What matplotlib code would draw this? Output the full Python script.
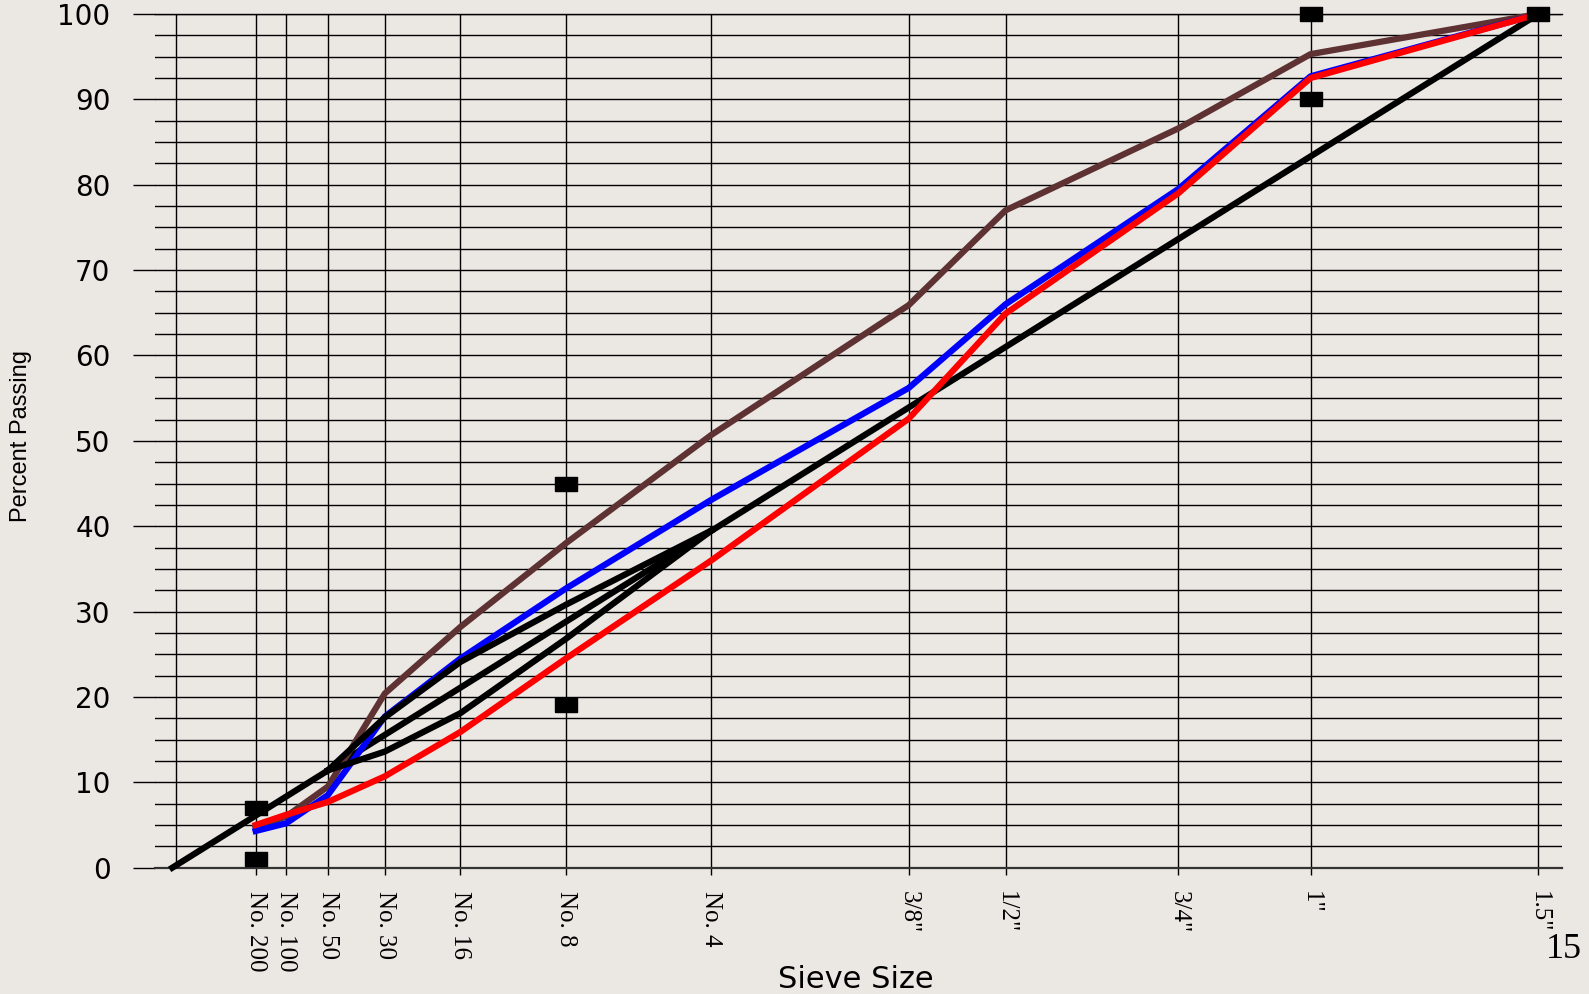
import numpy as np
from matplotlib import pyplot as plt
from matplotlib.ticker import MultipleLocator

# Sieve openings (mm) and their labels
sieve_mm = [0.075, 0.15, 0.3, 0.6, 1.18, 2.36, 4.75, 9.5, 12.5, 19.0, 25.0, 37.5]
sieve_labels = ["No. 200", "No. 100", "No. 50", "No. 30", "No. 16", "No. 8",
                "No. 4", '3/8"', '1/2"', '3/4"', '1"', '1.5"']

# Gradation curves (percent passing at each sieve)
blend_brown = [4.7, 6.0, 9.5, 20.4, 28.2, 38.0, 50.7, 65.9, 77.0, 86.6, 95.3, 100.0]
blend_blue = [4.3, 5.2, 8.5, 17.7, 24.5, 32.7, 43.1, 56.2, 66.0, 79.5, 92.7, 100.0]
blend_red = [5.0, 6.2, 7.7, 10.7, 15.9, 24.5, 36.0, 52.6, 64.9, 79.0, 92.5, 100.0]

# Maximum density line
mdl_mm = [0.0, 37.5]
mdl_pass = [0.0, 100.0]

# Restricted zone boundaries
rz_mm = [0.3, 0.6, 1.18, 2.36, 4.75]
rz_lower = [11.4, 13.6, 18.1, 26.8, 39.5]
rz_upper = [11.4, 17.6, 24.1, 30.8, 39.5]

# Control points
cp_mm = [0.075, 0.075, 2.36, 2.36, 25.0, 25.0, 37.5]
cp_pass = [1.0, 7.0, 19.0, 45.0, 90.0, 100.0, 100.0]

BG = "#ebe7e3"
EXP = 0.45


def fwd(x):
    x = np.asarray(x, dtype=float)
    return np.sign(x) * np.abs(x) ** EXP


def inv(y):
    y = np.asarray(y, dtype=float)
    return np.sign(y) * np.abs(y) ** (1.0 / EXP)


fig = plt.figure(figsize=(15.89, 9.94), dpi=100, facecolor=BG)
ax = fig.add_axes([155 / 1589, 126.3 / 994, 1407 / 1589, 853.7 / 994])
ax.set_facecolor(BG)
ax.set_xscale("function", functions=(fwd, inv))
ax.set_xlim(-(0.0647 ** (1 / EXP)), 5.197 ** (1 / EXP))
ax.set_ylim(0, 100)

for s in ax.spines.values():
    s.set_visible(False)

# grid: 10 % major, 2.5 % minor, verticals at each sieve
ax.yaxis.set_major_locator(MultipleLocator(10))
ax.yaxis.set_minor_locator(MultipleLocator(2.5))
ax.grid(True, axis="y", which="major", color="black", linewidth=1.0)
ax.grid(True, axis="y", which="minor", color="black", linewidth=1.0)
ax.axhline(100, color="black", linewidth=1.0, clip_on=False, zorder=1)
ax.axhline(0, color="#333333", linewidth=1.6, clip_on=False, zorder=1)
ax.set_xticks(sieve_mm)
ax.set_xticklabels(sieve_labels, rotation=270, fontsize=18, family="Liberation Serif")
ax.grid(True, axis="x", which="major", color="black", linewidth=1.0)
ax.axvline(float(inv(0.015)), color="black", linewidth=1.0)
ax.set_axisbelow(True)

ax.tick_params(axis="y", which="major", length=16, width=1.0, pad=16,
               labelsize=20, color="black")
ax.tick_params(axis="y", which="minor", length=0)
ax.tick_params(axis="x", which="major", length=5, width=1.0, pad=12, color="black")
ax.tick_params(axis="x", which="minor", length=0)
for lab in ax.get_yticklabels():
    lab.set_family("DejaVu Sans")

lw = 4.5
ax.plot(mdl_mm, mdl_pass, color="black", linewidth=lw, clip_on=False, zorder=3)
ax.plot(sieve_mm, blend_brown, color="#5e3232", linewidth=lw, clip_on=False, zorder=4)
ax.plot(sieve_mm, blend_blue, color="#0000ff", linewidth=lw, clip_on=False, zorder=5)
ax.plot(rz_mm, rz_lower, color="black", linewidth=lw, zorder=6)
ax.plot(rz_mm, rz_upper, color="black", linewidth=lw, zorder=6)
ax.plot(sieve_mm, blend_red, color="#ff0000", linewidth=lw, clip_on=False, zorder=7)

rect = [(-1.5, -1), (1.5, -1), (1.5, 1), (-1.5, 1), (-1.5, -1)]
ax.plot(cp_mm, cp_pass, linestyle="none", marker=rect, markersize=16,
        color="black", clip_on=False, zorder=8)

fig.text(856 / 1589, 1 - 980 / 994, "Sieve Size", ha="center", va="center",
         fontsize=22, family="DejaVu Sans")
fig.text(21 / 1589, 1 - 436 / 994, "Percent Passing", ha="center", va="center",
         rotation=90, fontsize=17, family="Liberation Sans")
fig.text(1564 / 1589, 1 - 949 / 994, "15", ha="center", va="center",
         fontsize=26, family="Liberation Serif")

fig.savefig("out.png", dpi=100, facecolor=BG)
